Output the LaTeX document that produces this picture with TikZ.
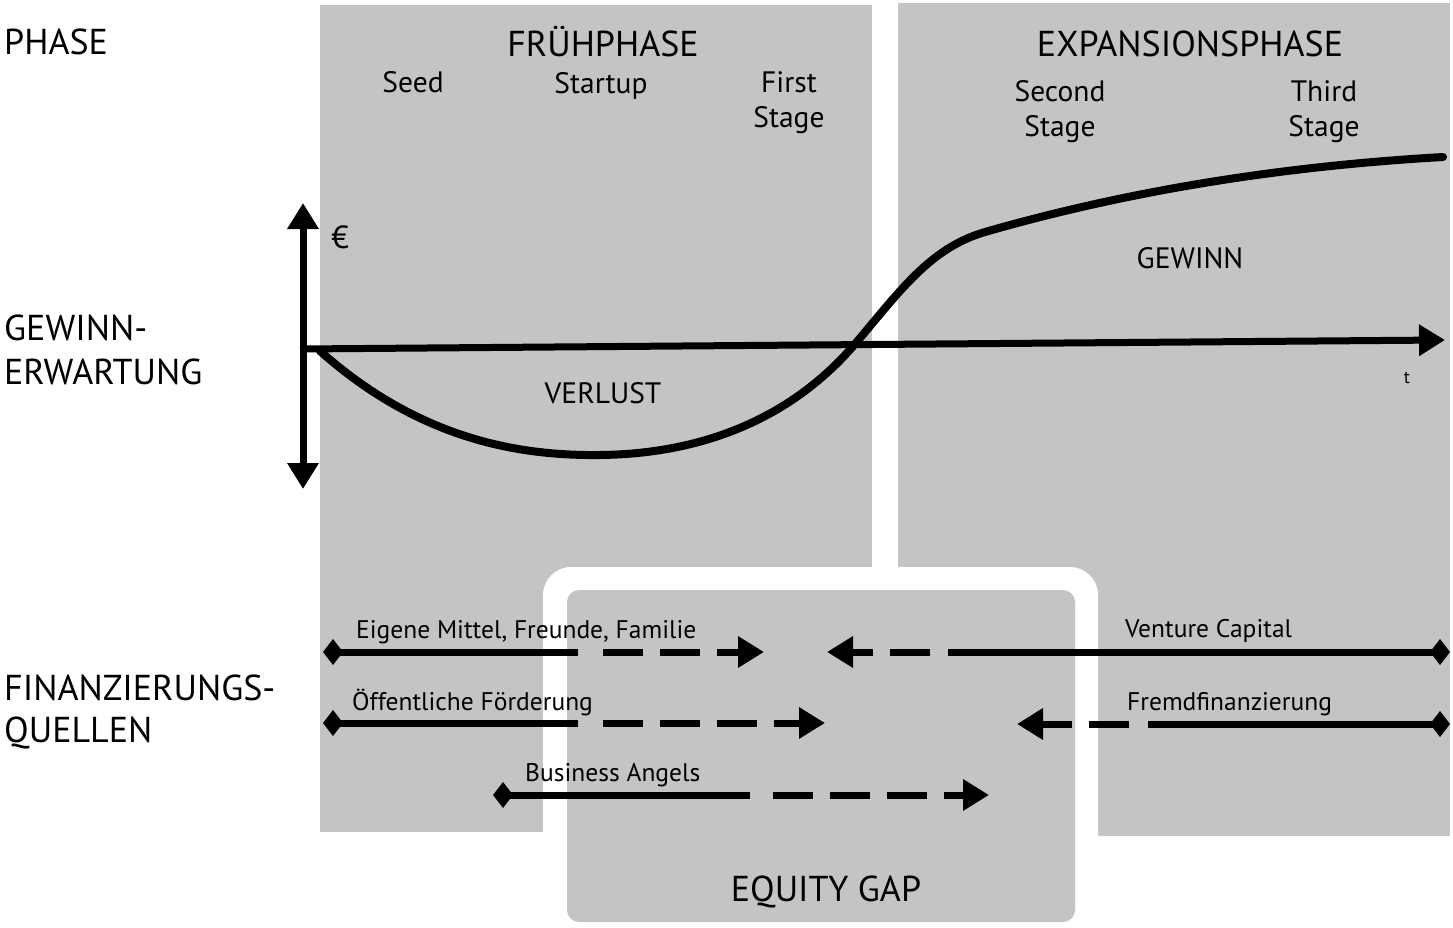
\documentclass[tikz,border=0pt]{standalone}
\usepackage{fontspec}
\setmainfont{PT Sans}
\usetikzlibrary{arrows.meta}
\definecolor{panel}{RGB}{196,196,196}
\begin{document}
\begin{tikzpicture}[x=1pt,y=-1pt,
  txt/.style={inner sep=0pt, anchor=base},
  wtxt/.style={inner sep=0pt, anchor=base west},
  big/.style={font=\fontsize{36}{42}\selectfont},
  mid/.style={font=\fontsize{29.5}{34}\selectfont},
  small/.style={font=\fontsize{25.5}{30}\selectfont},
  axisline/.style={line width=7pt},
  arr/.style={line width=7pt},
  dashes/.style={dash pattern=on 40pt off 17pt},
  dtip/.tip={Diamond[length=20pt,width=26pt]},
  ttip/.tip={Triangle[length=26pt,width=30pt]}
]
\useasboundingbox (0,0) rectangle (1453,928);
% panels
\fill[panel] (320,5) rectangle (872,832);
\fill[panel] (898,3) rectangle (1450,836);
\fill[white, rounded corners=28pt] (543,567) rectangle (1098,950);
\fill[panel, rounded corners=12pt] (567,590) rectangle (1075,922);

% left labels
\node[wtxt, big] (ph) at (4,55) {PHASE};
\node[wtxt, big] (gw1) at (4,340) {GEWINN-};
\node[wtxt, big] (gw2) at (4,384) {ERWARTUNG};
\node[wtxt, big] (fq1) at (4,700) {FINANZIERUNGS-};
\node[wtxt, big] (fq2) at (4,742) {QUELLEN};

% phase headings
\node[txt, big] (fp) at (603,57) {FRÜHPHASE};
\node[txt, big] (ep) at (1190,57) {EXPANSIONSPHASE};
\node[txt, mid] (seed) at (413,93) {Seed};
\node[txt, mid] (start) at (601,94) {Startup};
\node[txt, mid] (fs1) at (789,93) {First};
\node[txt, mid] (fs2) at (789,128) {Stage};
\node[txt, mid] (ss1) at (1060,102) {Second};
\node[txt, mid] (ss2) at (1060,137) {Stage};
\node[txt, mid] (ts1) at (1324,102) {Third};
\node[txt, mid] (ts2) at (1324,137) {Stage};

% axes
\coordinate (yt) at (303,203);
\coordinate (yb) at (303,489);
\draw[axisline, {ttip}-{ttip}] (yb) -- (yt);
\coordinate (x0) at (300,349);
\coordinate (x1) at (1445,340);
\draw[axisline, -{ttip}] (x0) -- (x1);
\node[txt, font=\fontsize{32}{36}\selectfont] (eur) at (340,248) {€};
\node[txt, font=\fontsize{18}{20}\selectfont] (tt) at (1407,383) {t};

% profit curve
\draw[line width=8pt, line cap=round]
  (320,351) .. controls (420,440) and (520,456) .. (600,455)
            .. controls (700,454) and (790,420) .. (855,344)
            .. controls (900,291) and (930,248) .. (985,232)
            .. controls (1100,199) and (1250,168) .. (1443,157);
\node[txt, mid] (gew) at (1190,268) {GEWINN};
\node[txt, mid] (ver) at (603,403) {VERLUST};

% financing arrows
\coordinate (r1s) at (323,652); \coordinate (r1m) at (578,652);
\coordinate (r1d) at (603,652); \coordinate (r1e) at (764,652);
\draw[arr, {dtip}-] (r1s) -- (r1m);
\draw[arr, dashes, -{ttip}] (r1d) -- (r1e);
\node[wtxt, small] (l1) at (356,638) {Eigene Mittel, Freunde, Familie};

\coordinate (v1s) at (1450,652); \coordinate (v1m) at (948,652);
\coordinate (v1d) at (930,652); \coordinate (v1e) at (827,652);
\draw[arr, {dtip}-] (v1s) -- (v1m);
\draw[arr, dashes, -{ttip}] (v1d) -- (v1e);
\node[wtxt, small] (l4) at (1125,637) {Venture Capital};

\coordinate (r2s) at (323,723); \coordinate (r2m) at (578,723);
\coordinate (r2d) at (603,723); \coordinate (r2e) at (825,723);
\draw[arr, {dtip}-] (r2s) -- (r2m);
\draw[arr, dashes, -{ttip}] (r2d) -- (r2e);
\node[wtxt, small] (l2) at (352,710) {Öffentliche Förderung};

\coordinate (f1s) at (1450,724); \coordinate (f1m) at (1148,724);
\coordinate (f1d) at (1129,724); \coordinate (f1e) at (1017,724);
\draw[arr, {dtip}-] (f1s) -- (f1m);
\draw[arr, dashes, -{ttip}] (f1d) -- (f1e);
\node[wtxt, small] (l5) at (1127,710) {Fremdfinanzierung};

\coordinate (r3s) at (493,795); \coordinate (r3m) at (750,795);
\coordinate (r3d) at (773,795); \coordinate (r3e) at (989,795);
\draw[arr, {dtip}-] (r3s) -- (r3m);
\draw[arr, dashes, -{ttip}] (r3d) -- (r3e);
\node[wtxt, small] (l3) at (525,781) {Business Angels};

\node[txt, big] (eg) at (826,901) {EQUITY GAP};
\end{tikzpicture}
\end{document}
